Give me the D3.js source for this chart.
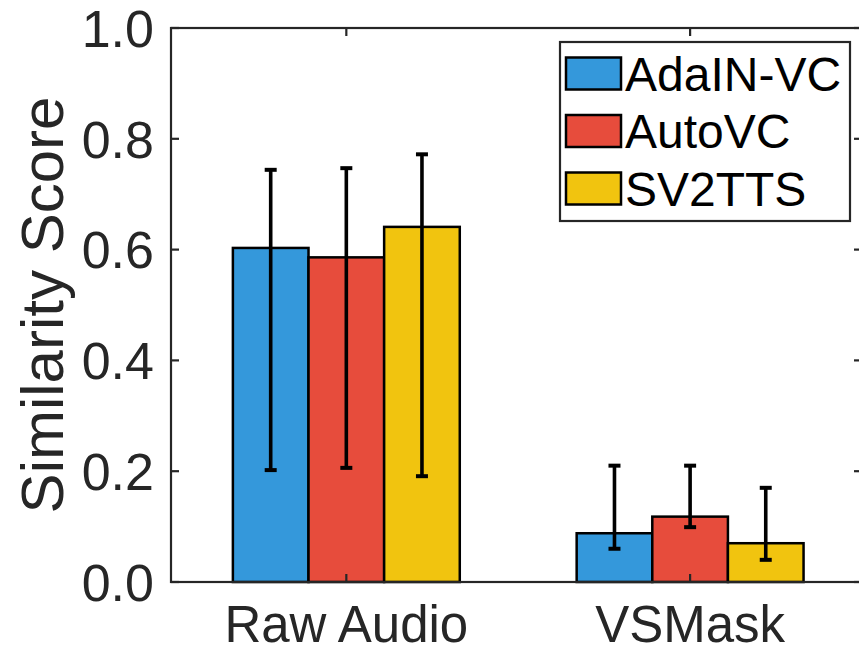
<!DOCTYPE html>
<html>
<head>
<meta charset="utf-8">
<script src="https://cdn.jsdelivr.net/npm/d3@7"></script>
<style>
  html, body { margin: 0; padding: 0; background: #fff; }
  svg { display: block; font-family: "Liberation Sans", Arial, Helvetica, sans-serif; }
</style>
</head>
<body>
<div id="chart"></div>
<script>
// Data
var categories = ['Raw Audio', 'VSMask'];
var seriesNames = ['AdaIN-VC', 'AutoVC', 'SV2TTS'];
var seriesColors = ['#3498db', '#e74c3c', '#f1c40f'];

// mean scores per series, one value per category
var adainMean = [0.603, 0.088];
var autovcMean = [0.586, 0.118];
var sv2ttsMean = [0.641, 0.070];

// error bar ends (lower / upper)
var adainLow = [0.202, 0.060];
var adainHigh = [0.744, 0.210];
var autovcLow = [0.206, 0.099];
var autovcHigh = [0.747, 0.210];
var sv2ttsLow = [0.191, 0.040];
var sv2ttsHigh = [0.772, 0.170];

var yTicks = [0, 0.2, 0.4, 0.6, 0.8, 1.0];

var means = [adainMean, autovcMean, sv2ttsMean];
var lows = [adainLow, autovcLow, sv2ttsLow];
var highs = [adainHigh, autovcHigh, sv2ttsHigh];

var W = 859, H = 652;
var AXIS_COLOR = '#262626';
var TICK_LEN = 8;

var svg = d3.select('#chart').append('svg')
  .attr('width', W)
  .attr('height', H);

// plot box: x in "group units" like matlab, 1 and 2 are the categories
var x = d3.scaleLinear().domain([0.49, 2.5]).range([171, 862]);
var y = d3.scaleLinear().domain([0, 1]).range([582, 28]);
var barW = 0.22; // in group units

// flatten into one list of bars
var bars = [];
seriesNames.forEach(function(name, s) {
  categories.forEach(function(cat, c) {
    bars.push({
      s: s,
      c: c,
      center: (c + 1) + (s - 1) * barW,
      value: means[s][c],
      low: lows[s][c],
      high: highs[s][c]
    });
  });
});

var plot = svg.append('g');

// bars
plot.selectAll('rect.bar')
  .data(bars)
  .enter()
  .append('rect')
  .attr('class', 'bar')
  .attr('x', function(d) { return x(d.center - barW / 2); })
  .attr('width', function(d) { return x(barW) - x(0); })
  .attr('y', function(d) { return y(d.value); })
  .attr('height', function(d) { return y(0) - y(d.value); })
  .attr('fill', function(d) { return seriesColors[d.s]; })
  .attr('stroke', '#000')
  .attr('stroke-width', 2.5);

// error bars
var err = plot.selectAll('g.err')
  .data(bars)
  .enter()
  .append('g')
  .attr('class', 'err')
  .attr('stroke', '#000')
  .attr('stroke-width', 3.6);

err.append('line')
  .attr('x1', function(d) { return x(d.center); })
  .attr('x2', function(d) { return x(d.center); })
  .attr('y1', function(d) { return y(d.low); })
  .attr('y2', function(d) { return y(d.high); });

['low', 'high'].forEach(function(k) {
  err.append('line')
    .attr('x1', function(d) { return x(d.center) - 6; })
    .attr('x2', function(d) { return x(d.center) + 6; })
    .attr('y1', function(d) { return y(d[k]); })
    .attr('y2', function(d) { return y(d[k]); })
    .attr('stroke-width', 4);
});

// axes box
var xr = x.range(), yr = y.range();
var axes = svg.append('g')
  .attr('stroke', AXIS_COLOR)
  .attr('stroke-width', 2.2)
  .attr('fill', 'none');

axes.append('rect')
  .attr('x', xr[0])
  .attr('y', yr[1])
  .attr('width', xr[1] - xr[0])
  .attr('height', yr[0] - yr[1]);

// y ticks, inside on both sides
yTicks.forEach(function(t) {
  axes.append('line')
    .attr('x1', xr[0]).attr('x2', xr[0] + TICK_LEN)
    .attr('y1', y(t)).attr('y2', y(t));
  axes.append('line')
    .attr('x1', xr[1]).attr('x2', xr[1] - TICK_LEN)
    .attr('y1', y(t)).attr('y2', y(t));
});

// x ticks at the category centers, top and bottom
categories.forEach(function(cat, i) {
  axes.append('line')
    .attr('x1', x(i + 1)).attr('x2', x(i + 1))
    .attr('y1', yr[0]).attr('y2', yr[0] - TICK_LEN);
  axes.append('line')
    .attr('x1', x(i + 1)).attr('x2', x(i + 1))
    .attr('y1', yr[1]).attr('y2', yr[1] + TICK_LEN);
});

// tick labels
svg.selectAll('text.ytick')
  .data(yTicks)
  .enter()
  .append('text')
  .attr('class', 'ytick')
  .attr('x', xr[0] - 17)
  .attr('y', function(d) { return y(d); })
  .attr('dy', '0.36em')
  .attr('text-anchor', 'end')
  .attr('font-size', 52)
  .attr('fill', AXIS_COLOR)
  .text(function(d) { return d3.format('.1f')(d); });

svg.selectAll('text.xtick')
  .data(categories)
  .enter()
  .append('text')
  .attr('class', 'xtick')
  .attr('x', function(d, i) { return x(i + 1); })
  .attr('y', 642)
  .attr('text-anchor', 'middle')
  .attr('font-size', 51)
  .attr('fill', AXIS_COLOR)
  .text(function(d) { return d; });

// y axis title
svg.append('text')
  .attr('transform', 'translate(63,' + ((yr[0] + yr[1]) / 2) + ') rotate(-90)')
  .attr('text-anchor', 'middle')
  .attr('font-size', 60)
  .attr('fill', AXIS_COLOR)
  .text('Similarity Score');

// legend
var legend = svg.append('g').attr('transform', 'translate(560,42)');
legend.append('rect')
  .attr('width', 290)
  .attr('height', 179)
  .attr('fill', '#fff')
  .attr('stroke', AXIS_COLOR)
  .attr('stroke-width', 2.2);

var item = legend.selectAll('g.item')
  .data(seriesNames)
  .enter()
  .append('g')
  .attr('class', 'item')
  .attr('transform', function(d, i) { return 'translate(0,' + (31.5 + i * 57.5) + ')'; });

item.append('rect')
  .attr('x', 6)
  .attr('y', -16)
  .attr('width', 55)
  .attr('height', 32)
  .attr('fill', function(d, i) { return seriesColors[i]; })
  .attr('stroke', '#000')
  .attr('stroke-width', 2.5);

item.append('text')
  .attr('x', 65)
  .attr('y', 17)
  .attr('font-size', 48)
  .attr('fill', '#000')
  .text(function(d) { return d; });
</script>
</body>
</html>
